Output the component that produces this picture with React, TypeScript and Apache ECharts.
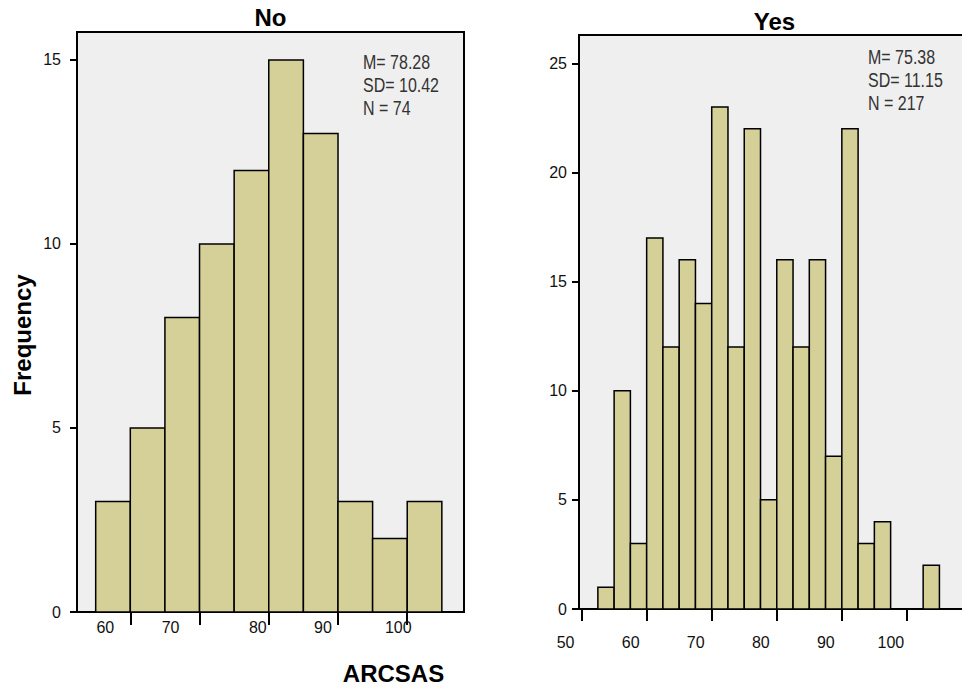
import React, { useEffect, useRef } from "react";
import * as echarts from "echarts";

// ---- data ----
const noBinStarts = [55, 60, 65, 70, 75, 80, 85, 90, 95, 100];
const noBinWidth = 5;
const noCounts = [3, 5, 8, 10, 12, 15, 13, 3, 2, 3];

const yesBinStarts = [52.5, 55, 57.5, 60, 62.5, 65, 67.5, 70, 72.5, 75, 77.5, 80, 82.5, 85, 87.5, 90, 92.5, 95, 97.5, 100, 102.5];
const yesBinWidth = 2.5;
const yesCounts = [1, 10, 3, 17, 12, 16, 14, 23, 12, 22, 5, 16, 12, 16, 7, 22, 3, 4, 0, 0, 2];

const noXTicks = [60, 70, 80, 90, 100];
const yesXTicks = [50, 60, 70, 80, 90, 100];
const noYTicks = [0, 5, 10, 15];
const yesYTicks = [0, 5, 10, 15, 20, 25];

const noStats = ["M= 78.28", "SD= 10.42", "N = 74"];
const yesStats = ["M= 75.38", "SD= 11.15", "N = 217"];
const panelTitles = ["No", "Yes"];
const yAxisTitle = "Frequency";
const xAxisTitle = "ARCSAS";

// ---- styles ----
const BAR = "#d4d098";
const BG = "#efefef";
const SANS = "'Liberation Sans', Arial, sans-serif";
// SPSS places x labels a bit left of their ticks (pixels)
const noLabelShift = [25, 29, 11, 15, 9];
const yesLabelShift = [16, 16, 16, 16, 16, 16];
const CANVAS_W = 980; // wider than the 962 window: the right frame runs off the page

function renderBar(params: any, api: any) {
  const x0 = api.value(0);
  const x1 = api.value(1);
  const c = api.value(2);
  if (!c) return null;
  const p0 = api.coord([x0, c]);
  const p1 = api.coord([x1, 0]);
  return {
    type: "rect",
    shape: { x: p0[0], y: p0[1], width: p1[0] - p0[0], height: p1[1] - p0[1] },
    style: { fill: BAR, stroke: "#000", lineWidth: 1.5 },
  };
}

function richFor(ticks: number[], shifts: number[]) {
  const rich: any = {};
  ticks.forEach((t, i) => {
    rich["s" + i] = {
      fontSize: 16,
      fontFamily: SANS,
      color: "#111",
      padding: [0, shifts[i] * 2, 0, 0],
    };
  });
  return rich;
}

function xAxisFor(gridIndex: number, min: number, max: number, ticks: number[], shifts: number[], tickLen: number, margin: number) {
  return {
    type: "value",
    gridIndex,
    min,
    max,
    splitLine: { show: false },
    axisLine: { show: true, lineStyle: { color: "#000", width: 2 } },
    axisTick: { show: true, customValues: ticks, length: tickLen, lineStyle: { color: "#000", width: 2 } },
    axisLabel: {
      show: true,
      customValues: ticks,
      margin,
      formatter: (v: number) => {
        const i = ticks.indexOf(v);
        return "{s" + (i < 0 ? 0 : i) + "|" + v + "}";
      },
      rich: richFor(ticks, shifts),
    },
  };
}

function yAxisFor(gridIndex: number, max: number, ticks: number[], margin: number) {
  return {
    type: "value",
    gridIndex,
    min: 0,
    max,
    splitLine: { show: false },
    axisLine: { show: true, lineStyle: { color: "#000", width: 2 } },
    axisTick: { show: true, customValues: ticks, length: 7, lineStyle: { color: "#000", width: 2 } },
    axisLabel: { show: true, customValues: ticks, margin, fontSize: 16, fontFamily: SANS, color: "#111" },
  };
}

function statsText(x: number, y: number, lines: string[]) {
  return {
    type: "text",
    x,
    y,
    scaleX: 0.82,
    style: { text: lines.join("\n"), fontSize: 19.5, lineHeight: 23, fontFamily: SANS, fill: "#333", align: "left", verticalAlign: "top" },
  };
}

export default function App() {
  const ref = useRef<HTMLDivElement>(null);

  useEffect(() => {
    if (!ref.current) return;
    const chart = echarts.init(ref.current, undefined, { renderer: "svg" });
    const option: any = {
      animation: false,
      backgroundColor: "#ffffff",
      grid: [
        { left: 77, right: CANVAS_W - 464, top: 32, bottom: 78, show: true, backgroundColor: BG, borderColor: "#000", borderWidth: 2 },
        { left: 579, right: CANVAS_W - 970, top: 35, bottom: 81, show: true, backgroundColor: BG, borderColor: "#000", borderWidth: 2 },
      ],
      xAxis: [
        xAxisFor(0, 52.3, 108.2, noXTicks, noLabelShift, 13, 7),
        xAxisFor(1, 49.6, 109.7, yesXTicks, yesLabelShift, 12, 25),
      ],
      yAxis: [yAxisFor(0, 15.76, noYTicks, 16), yAxisFor(1, 26.3, yesYTicks, 12)],
      series: [
        {
          type: "custom",
          xAxisIndex: 0,
          yAxisIndex: 0,
          renderItem: renderBar,
          encode: { x: [0, 1], y: 2 },
          data: noBinStarts.map((s, i) => [s, s + noBinWidth, noCounts[i]]),
        },
        {
          type: "custom",
          xAxisIndex: 1,
          yAxisIndex: 1,
          renderItem: renderBar,
          encode: { x: [0, 1], y: 2 },
          data: yesBinStarts.map((s, i) => [s, s + yesBinWidth, yesCounts[i]]),
        },
      ],
      graphic: [
        {
          type: "text",
          x: 270.5,
          y: 17,
          style: { text: panelTitles[0], fontSize: 24, fontWeight: "bold", fontFamily: SANS, fill: "#000", align: "center", verticalAlign: "middle" },
        },
        {
          type: "text",
          x: 774.5,
          y: 21.5,
          style: { text: panelTitles[1], fontSize: 24, fontWeight: "bold", fontFamily: SANS, fill: "#000", align: "center", verticalAlign: "middle" },
        },
        {
          type: "text",
          x: 22,
          y: 335,
          rotation: Math.PI / 2,
          style: { text: yAxisTitle, fontSize: 24, fontWeight: "bold", fontFamily: SANS, fill: "#000", align: "center", verticalAlign: "middle" },
        },
        {
          type: "text",
          x: 393.5,
          y: 673,
          style: { text: xAxisTitle, fontSize: 24, fontWeight: "bold", fontFamily: SANS, fill: "#000", align: "center", verticalAlign: "middle" },
        },
        statsText(363, 51, noStats),
        statsText(868, 46, yesStats),
      ],
    };
    chart.setOption(option);
    return () => chart.dispose();
  }, []);

  return (
    <div
      ref={ref}
      style={{ position: "fixed", left: 0, top: 0, width: CANVAS_W, height: 690, background: "#fff" }}
    />
  );
}
